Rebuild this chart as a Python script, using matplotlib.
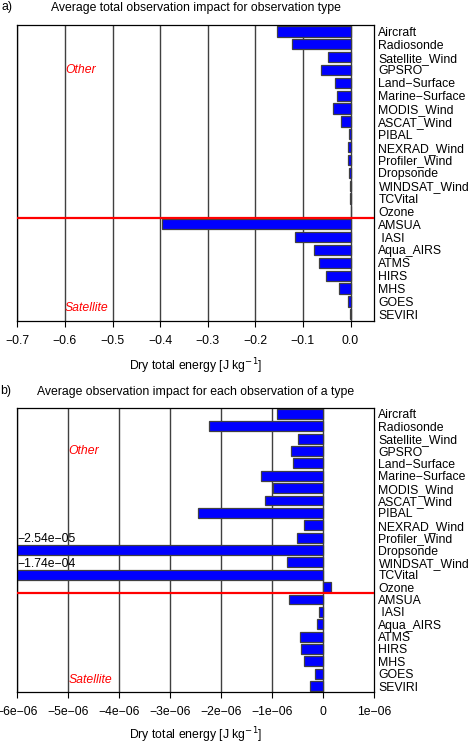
import numpy as np
import matplotlib
matplotlib.use("Agg")
import matplotlib.pyplot as plt

# observation types, top to bottom
obs_types = ["Aircraft", "Radiosonde", "Satellite_Wind", "GPSRO", "Land\u2212Surface",
             "Marine\u2212Surface", "MODIS_Wind", "ASCAT_Wind", "PIBAL", "NEXRAD_Wind",
             "Profiler_Wind", "Dropsonde", "WINDSAT_Wind", "TCVital", "Ozone",
             "AMSUA", " IASI", "Aqua_AIRS", "ATMS", "HIRS", "MHS", "GOES", "SEVIRI"]

# a) total impact per type [J/kg]
total_impact = [-0.155, -0.123, -0.048, -0.061, -0.032, -0.028, -0.036, -0.019,
                -0.004, -0.005, -0.006, -0.004, -0.0005, -0.0002, 0.002,
                -0.395, -0.116, -0.077, -0.067, -0.051, -0.024, -0.006, -0.001]

# b) impact per single observation [J/kg]
per_obs_impact = [-0.90e-6, -2.24e-6, -0.50e-6, -0.64e-6, -0.59e-6, -1.22e-6,
                  -0.99e-6, -1.15e-6, -2.45e-6, -0.38e-6, -0.51e-6, -2.54e-5,
                  -0.71e-6, -1.74e-4, 0.15e-6,
                  -0.67e-6, -0.09e-6, -0.12e-6, -0.45e-6, -0.43e-6, -0.37e-6,
                  -0.17e-6, -0.27e-6]

ticks_a = [-0.7, -0.6, -0.5, -0.4, -0.3, -0.2, -0.1, 0.0]
ticklabels_a = ["\u22120.7", "\u22120.6", "\u22120.5", "\u22120.4", "\u22120.3",
                "\u22120.2", "\u22120.1", "0.0"]
ticks_b = [-6e-6, -5e-6, -4e-6, -3e-6, -2e-6, -1e-6, 0.0, 1e-6]
ticklabels_b = ["\u22126e\u221206", "\u22125e\u221206", "\u22124e\u221206", "\u22123e\u221206",
                "\u22122e\u221206", "\u22121e\u221206", "0", "1e\u221206"]

n_other = 15  # first 15 types are "Other", rest "Satellite"

plt.rcParams['font.family'] = ['Liberation Sans', 'DejaVu Sans']
plt.rcParams['font.size'] = 8.8
plt.rcParams['axes.unicode_minus'] = True

W, H = 470, 743
fig = plt.figure(figsize=(W / 100, H / 100), dpi=100)


def px_axes(left, top, right, bottom):
    return fig.add_axes([left / W, 1 - bottom / H, (right - left) / W, (bottom - top) / H])


def draw_panel(ax, values, xlim, ticks, ticklabels, title, tag, tag_xy, title_pad, label_pad):
    y = np.arange(len(obs_types))
    xmin, xmax = xlim
    shown = np.clip(values, xmin, xmax)
    for t in ticks:
        if xmin <= t < xmax:
            ax.axvline(t, color="0.25", lw=1.0, zorder=0)
    ax.barh(y, shown, height=0.8, color="#0000ff", edgecolor="0.25", linewidth=0.9, zorder=2)
    # values that run off the left edge get printed
    for yi, v in zip(y, values):
        if v < xmin:
            ax.text(xmin, yi - 0.42, f"{v:.2e}".replace("-", "\u2212"),
                    ha="left", va="bottom", fontsize=8.8, zorder=3)
    ax.axhline(n_other - 0.5, color="red", lw=1.6, zorder=3)
    ax.text(ticks[1], 3, "Other", color="red", style="italic", ha="left", va="center")
    ax.text(ticks[1], 21.5, "Satellite", color="red", style="italic", ha="left", va="center")
    ax.set_xlim(xmin, xmax)
    ax.set_ylim(len(obs_types) - 0.5, -0.5)
    ax.set_xticks(ticks)
    ax.set_xticklabels(ticklabels)
    ax.tick_params(axis="x", direction="out", length=4, width=0.8, pad=6)
    ax.yaxis.tick_right()
    ax.set_yticks(y)
    ax.set_yticklabels(obs_types)
    ax.tick_params(axis="y", length=0, pad=3)
    for s in ax.spines.values():
        s.set_linewidth(0.9)
    ax.set_xlabel("Dry total energy [J kg$^{-1}$]", labelpad=label_pad)
    ax.set_title(title, fontsize=8.8, pad=title_pad)
    fig.text(tag_xy[0] / W, 1 - tag_xy[1] / H, tag, ha="left", va="center")


ax1 = px_axes(17.3, 25, 374.3, 320.7)
draw_panel(ax1, total_impact, (-0.7, 0.05), ticks_a, ticklabels_a,
           "Average total observation impact for observation type", "a)", (2, 7), 10, 7)

ax2 = px_axes(17.3, 407.7, 374.3, 692.3)
draw_panel(ax2, per_obs_impact, (-6e-6, 1e-6), ticks_b, ticklabels_b,
           "Average observation impact for each observation of a type", "b)", (0, 391), 9, 5.5)

fig.savefig("out.png", dpi=100)
